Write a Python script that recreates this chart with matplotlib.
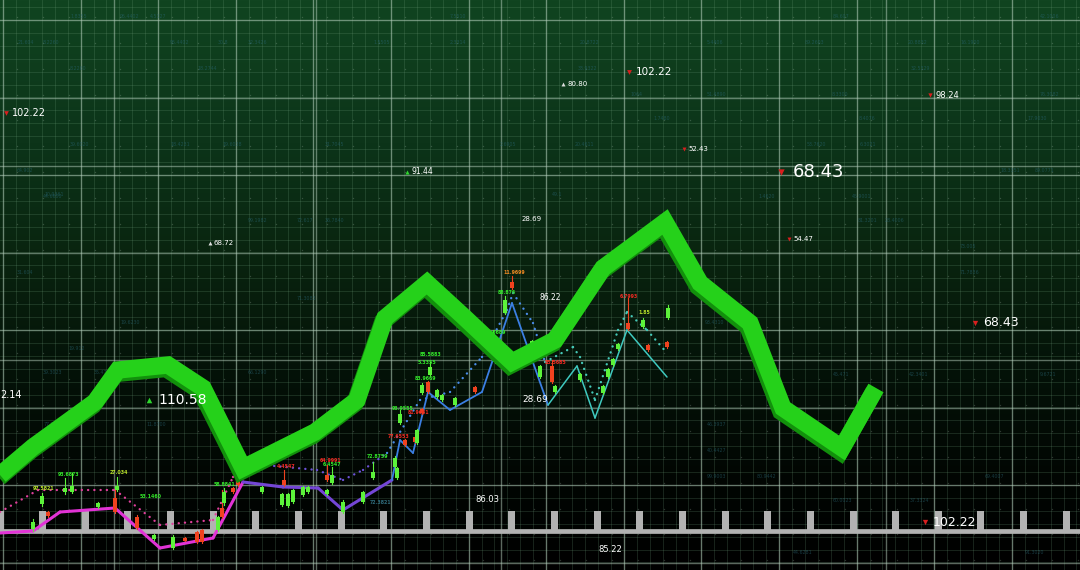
import matplotlib.pyplot as plt
import numpy as np
from matplotlib.colors import LinearSegmentedColormap
from matplotlib.patheffects import SimpleLineShadow, Normal

# ---- data (screen-like units: x to the right, y downwards) ----
# thick green trend
trend_x = [0, 33, 95, 118, 168, 203, 243, 315, 357, 385, 427, 463, 512, 555, 603, 665, 700, 750, 783, 842, 876]
trend_y = [475, 447, 402, 370, 365, 388, 468, 432, 400, 318, 283, 316, 362, 340, 268, 222, 283, 323, 408, 448, 388]

# price path (magenta -> purple -> blue -> cyan)
price_x = [0, 33, 60, 115, 160, 213, 243, 283, 318, 343, 392, 400, 413, 428, 450, 482, 512, 548, 577, 595, 627, 667]
price_y = [533, 531, 512, 508, 548, 538, 482, 487, 488, 510, 480, 440, 453, 392, 410, 392, 303, 405, 366, 418, 330, 377]
price_seg = ['m', 'm', 'm', 'm', 'm', 'm', 'p', 'p', 'p', 'p', 'b', 'b', 'b', 'b', 'b', 'b', 'b', 'c', 'c', 'c', 'c']

# dotted moving average
ma_x = [0, 38, 115, 160, 213, 233, 243, 317, 343, 363, 387, 420, 450, 482, 507, 513, 533, 545, 573, 580, 595, 618, 627, 647, 667]
ma_y = [512, 490, 490, 525, 520, 477, 463, 470, 480, 470, 453, 400, 392, 357, 310, 293, 323, 362, 347, 357, 400, 330, 312, 330, 353]
ma_seg = ['m'] * 6 + ['p'] * 4 + ['b'] * 7 + ['c'] * 7

# candles: x, body top, body bottom, wick top, wick bottom, up?
candle_x = [33, 48, 42, 65, 72, 98, 115, 117, 137, 154, 173, 185, 197, 202, 218, 222, 224, 233, 238,
            262, 284, 282, 288, 293, 303, 308, 327, 332, 327, 343, 363, 373, 395, 397, 400, 405, 415,
            417, 422, 422, 428, 430, 437, 442, 455, 475, 493, 495, 505, 512, 532, 540, 552, 555, 580,
            603, 608, 613, 618, 628, 648, 643, 668, 667]
candle_top = [522, 512, 496, 488, 486, 503, 498, 486, 517, 535, 537, 538, 532, 530, 517, 508, 492, 488, 477,
              487, 480, 494, 494, 490, 487, 487, 475, 475, 490, 502, 492, 472, 458, 468, 414, 440, 437,
              430, 409, 385, 382, 367, 390, 395, 398, 387, 335, 352, 300, 282, 341, 366, 366, 386, 374,
              386, 369, 359, 344, 323, 345, 320, 308, 342]
candle_bot = [529, 516, 504, 492, 492, 507, 512, 490, 528, 539, 548, 541, 542, 542, 530, 517, 503, 492, 485,
              492, 485, 505, 506, 502, 495, 492, 480, 483, 494, 512, 502, 478, 467, 478, 423, 445, 442,
              443, 413, 393, 392, 375, 397, 400, 405, 392, 343, 362, 313, 288, 349, 377, 382, 392, 380,
              393, 377, 365, 349, 329, 350, 327, 318, 347]
wick_top = [519, 511, 493, 478, 473, 502, 490, 477, 515, 534, 535, 537, 531, 529, 516, 490, 488, 487, 476,
            486, 470, 493, 493, 489, 486, 486, 465, 467, 489, 500, 491, 462, 456, 467, 410, 439, 436,
            429, 408, 383, 381, 362, 389, 394, 397, 386, 330, 342, 296, 276, 340, 365, 360, 385, 373,
            385, 368, 358, 343, 298, 344, 318, 305, 341]
wick_bot = [531, 517, 506, 494, 493, 508, 513, 491, 529, 540, 549, 541, 543, 543, 531, 518, 505, 493, 486,
            493, 486, 506, 507, 503, 496, 493, 481, 484, 495, 513, 503, 479, 468, 479, 424, 446, 443,
            444, 414, 394, 393, 376, 398, 401, 406, 393, 344, 363, 314, 289, 350, 378, 383, 393, 381,
            394, 378, 366, 350, 330, 351, 328, 319, 348]
candle_up = [1, 0, 1, 1, 1, 1, 0, 1, 0, 1, 1, 0, 0, 0, 1, 0, 1, 0, 0,
             1, 0, 1, 1, 1, 1, 1, 0, 1, 1, 1, 1, 1, 1, 1, 1, 0, 0,
             1, 0, 1, 0, 1, 1, 1, 1, 0, 1, 1, 1, 0, 1, 1, 0, 1, 1,
             1, 1, 1, 1, 0, 0, 1, 1, 0]

# tiny candle tags
tag_x = [33, 58, 110, 140, 214, 277, 320, 323, 367, 370, 388, 392, 408, 415, 418, 420, 485, 498, 503, 545, 620, 638]
tag_y = [489, 475, 472, 497, 484, 467, 461, 465, 457, 502, 436, 408, 412, 379, 362, 355, 332, 293, 272, 363, 296, 312]
tag_text = ['97.5821', '93.6873', '27.034', '53.1460', '58.8841', '4.4547', '64.9991', '6.4547', '72.8759',
            '72.3821', '77.6553', '93.9555', '81.9661', '83.9669', '5.3355', '85.5883', '98.6689', '88.876',
            '11.9699', '85.5685', '6.7993', '1.85']
tag_col = ['y', 'g', 'y', 'g', 'g', 'r', 'r', 'g', 'g', 'f', 'r', 'g', 'r', 'g', 'g', 'g', 'g', 'g',
           'o', 'r', 'r', 'y']

# white value labels
label_x = [12, 158, 0, 793, 983, 636, 935, 688, 412, 567, 214, 522, 793, 540, 522, 475, 933, 598]
label_y = [113, 400, 395, 172, 323, 72, 95, 149, 172, 84, 243, 219, 239, 297, 399, 499, 522, 549]
label_text = ['102.22', '110.58', '2.14', '68.43', '68.43', '102.22', '98.24', '52.43', '91.44', '80.80',
              '68.72', '28.69', '54.47', '86.22', '28.69', '86.03', '102.22', '85.22']
label_size = [7, 10, 7, 13, 9, 7.5, 6, 5, 5.5, 5, 5, 5, 5, 5.5, 6.5, 6, 9, 6]
label_mark = ['r', 'g', '', 'r', 'r', 'r', 'r', 'r', 'g', 'w', 'w', '', 'r', '', '', '', 'r', '']

# faint background figures
faint_x = [70, 120, 150, 18, 43, 170, 218, 248, 70, 197, 70, 170, 222, 325, 17, 44, 833, 1040, 908, 960,
           707, 805, 911, 707, 832, 1040, 859, 1027, 807, 860, 1000, 1035, 450, 373, 450, 580, 578,
           630, 653, 500, 575, 552, 43, 248, 297, 325, 17, 297, 120, 68, 43, 94, 248, 44, 146, 758, 852,
           885, 858, 960, 960, 705, 833, 909, 1040, 707, 707, 707, 757, 985, 833, 910, 793, 1025]
faint_y = [17, 17, 17, 43, 43, 43, 43, 43, 68, 68, 145, 145, 145, 145, 170, 195, 17, 17, 43, 43,
           43, 43, 68, 94, 94, 94, 119, 119, 145, 145, 170, 170, 17, 43, 43, 43, 68,
           94, 119, 145, 145, 195, 196, 221, 221, 221, 272, 298, 323, 348, 373, 373, 373, 425, 425, 196, 196,
           221, 221, 247, 272, 323, 374, 374, 374, 424, 450, 476, 476, 476, 501, 501, 552, 552]
faint_text = ['1.8355', '95.4402', '4.5127', '21.604', '8.2260', '95.4402', '30.8', '32.3426', '8.2260',
              '18.2744', '39.6020', '18.4231', '19.6038', '31.7045', '64.902', '10.9361', '84.607', '42.1006',
              '20.8832', '16.1900', '5.4406', '89.2603', '32.5329', '51.4890', '8.3300', '76.3082', '8.4076',
              '17.9030', '53.7620', '6.3021', '18.3351', '89.0771', '7.5510', '1.5505', '2.3314',
              '20.8722', '33.9322', '1064', '1.7480', '2.6905', '20.4611', '49.1', '44.6600', '99.1982',
              '72.617', '36.7840', '31.604', '71.3083', '19.6230', '19.912', '39.3023', '35.477', '66.1290',
              '77.9028', '11.8700', '1.4620', '45.9001', '28.4006', '81.3201', '73.005', '71.7836',
              '93.4310', '45.471', '42.3401', '9.6721', '46.3937', '40.4427', '99.9003', '80.9442', '69.4007',
              '60.0023', '37.3324', '44.6281', '91.3020']

colors_seg = {'m': '#e233d6', 'p': '#7446d6', 'b': '#3b7fe3', 'c': '#3fc9bf'}
colors_ma = {'m': '#e0409c', 'p': '#6c52d8', 'b': '#4a8ce8', 'c': '#45c9b8'}
colors_tag = {'g': '#33e62a', 'r': '#f02a22', 'y': '#b8e02a', 'o': '#f08a22', 'f': '#2f6c7c'}
colors_mark = {'r': '#d81f1f', 'g': '#2ed62e', 'w': '#dddddd'}

W, H = 1080, 570

fig = plt.figure(figsize=(10.8, 5.7), dpi=100)
ax = fig.add_axes([0, 0, 1, 1])
ax.set_xlim(0, W)
ax.set_ylim(H, 0)
ax.axis('off')

# background gradient
bg_cmap = LinearSegmentedColormap.from_list(
    'bg', [(0.0, '#104420'), (0.25, '#0c3419'), (0.45, '#09240f'),
           (0.65, '#041208'), (0.85, '#010502'), (1.0, '#000000')])
grad = np.linspace(0, 1, 256).reshape(-1, 1)
ax.imshow(grad, cmap=bg_cmap, extent=(0, W, H, 0), aspect='auto', zorder=0)

# fine grid
for gx in np.arange(3, W, 77.6 / 6):
    ax.axvline(gx, color='#6f9e7c', lw=0.6, alpha=0.25, zorder=1)
for gy in np.arange(20 - 77.5, H, 77.5 / 6):
    ax.axhline(gy, color='#6f9e7c', lw=0.6, alpha=0.25, zorder=1)
# major grid
for gx in list(np.arange(3, W, 77.6)) + [114, 501, 886, 316]:
    ax.axvline(gx, color='#b8d0bf', lw=1.0, alpha=0.5, zorder=1)
for gy in list(np.arange(20, H, 77.5)) + [166, 360]:
    ax.axhline(gy, color='#b8d0bf', lw=1.0, alpha=0.5, zorder=1)

# lattice dots
lat = np.arange(17, W, 25.87)
lx, ly = np.meshgrid(lat, np.arange(17, H, 25.87))
ax.scatter(lx.ravel(), ly.ravel(), s=1.0, color='#cfe0d4', alpha=0.22, lw=0, zorder=1.5)

# faint figures
for fx, fy, ft in zip(faint_x, faint_y, faint_text):
    ax.text(fx, fy, ft, fontsize=3.4, color='#2a6878', alpha=0.55, ha='left', va='center', zorder=1.6)

# gray baseline with teeth
ax.axhline(530.5, color='#b2b2b2', lw=3.4, zorder=2)
teeth = np.arange(0, W + 10, 42.65)
ax.bar(teeth, 19, bottom=511, width=7, color='#b2b2b2', lw=0, zorder=2)

# moving average (dotted)
for i in range(len(ma_x) - 1):
    ax.plot(ma_x[i:i + 2], ma_y[i:i + 2], color=colors_ma[ma_seg[i]], lw=1.7,
            linestyle=(0, (0.05, 2.6)), dash_capstyle='round', zorder=3)

# price path
lw_seg = {'m': 2.2, 'p': 2.2, 'b': 1.3, 'c': 1.1}
for i in range(len(price_x) - 1):
    ax.plot(price_x[i:i + 2], price_y[i:i + 2], color=colors_seg[price_seg[i]],
            lw=lw_seg[price_seg[i]], solid_capstyle='round', zorder=3.5)

# candles
for cx, t, b, wt, wb, up in zip(candle_x, candle_top, candle_bot, wick_top, wick_bot, candle_up):
    c = '#5cf23a' if up else '#f0421f'
    ax.plot([cx, cx], [wt, wb], color=c, lw=0.8, zorder=4)
    ax.bar(cx, b - t, bottom=t, width=4, color=c, lw=0, zorder=4)

for tx, ty, tt, tc in zip(tag_x, tag_y, tag_text, tag_col):
    ax.text(tx, ty, tt, fontsize=3.4, color=colors_tag[tc], ha='left', va='center',
            fontweight='bold', zorder=4.5)

# thick green trend with 3D edge
ax.plot(trend_x, trend_y, color='#25d11a', lw=12.5, solid_joinstyle='miter',
        solid_capstyle='butt', zorder=6,
        path_effects=[SimpleLineShadow(offset=(-1.5, -2.5), shadow_color='#12900c', alpha=1.0),
                      Normal()])

# value labels
for vx, vy, vt, vs, vm in zip(label_x, label_y, label_text, label_size, label_mark):
    if vm:
        ax.scatter([vx - 0.9 * vs], [vy], s=vs * 1.6, marker='v' if vm == 'r' else '^',
                   color=colors_mark[vm], lw=0, zorder=7)
    ax.text(vx, vy, vt, fontsize=vs, color='white', ha='left', va='center',
            family=['DejaVu Sans'], zorder=7)

fig.savefig('out.png', dpi=100, facecolor='black')
